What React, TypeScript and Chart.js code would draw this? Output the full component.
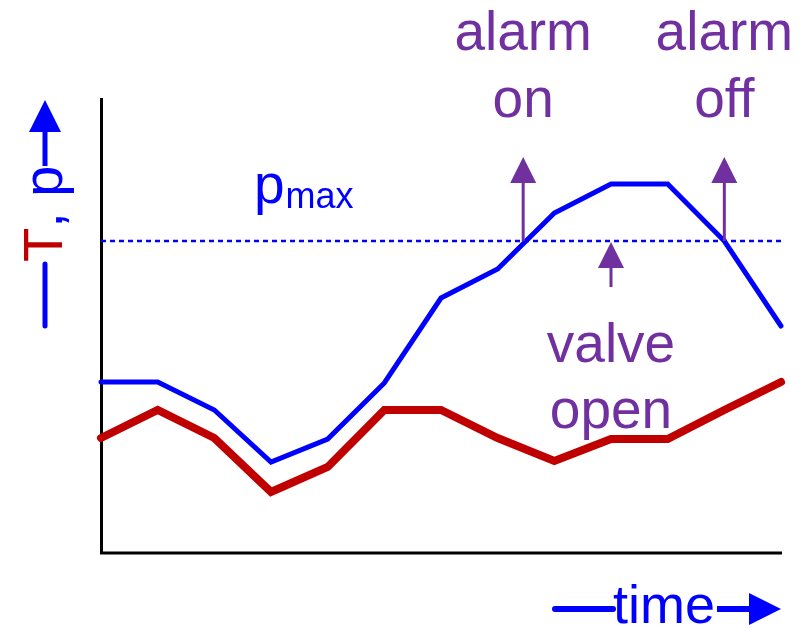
import React, { useEffect, useRef } from "react";
import { Chart, registerables } from "chart.js";

Chart.register(...registerables);

const timeSteps = [0, 1, 2, 3, 4, 5, 6, 7, 8, 9, 10, 11, 12];
const pressure = [169, 169, 141, 89, 112, 168, 253, 282, 338, 367, 367, 310, 225];
const temperature = [113, 141, 113, 59, 84, 141, 141, 113, 90, 112, 112, 141, 169];
const pMax = 310;
const alarmOnT = 7.45;
const alarmOffT = 11;
const valveOpenT = 9;
const alarmArrowTop = 394;
const valveArrowBottom = 264;
const valveArrowTip = 309;

const BLUE = "#0000FF";
const RED = "#C00000";
const PURPLE = "#7030A0";
const FONT = '"Liberation Sans", Arial, sans-serif';

function upArrow(ctx: CanvasRenderingContext2D, x: number, yFrom: number, yTip: number) {
  const headLen = 26;
  const half = 13;
  ctx.save();
  ctx.strokeStyle = PURPLE;
  ctx.fillStyle = PURPLE;
  ctx.lineWidth = 3;
  ctx.beginPath();
  ctx.moveTo(x, yFrom);
  ctx.lineTo(x, yTip + headLen - 2);
  ctx.stroke();
  ctx.beginPath();
  ctx.moveTo(x, yTip);
  ctx.lineTo(x - half, yTip + headLen);
  ctx.lineTo(x + half, yTip + headLen);
  ctx.closePath();
  ctx.fill();
  ctx.restore();
}

const decorPlugin = {
  id: "decor",
  beforeDatasetsDraw(chart: any) {
    const { ctx, chartArea } = chart;
    ctx.save();
    ctx.strokeStyle = "#000";
    ctx.lineWidth = 3;
    ctx.lineCap = "butt";
    ctx.beginPath();
    ctx.moveTo(chartArea.left + 0.5, chartArea.top - 3);
    ctx.lineTo(chartArea.left + 0.5, chartArea.bottom + 3.5);
    ctx.moveTo(chartArea.left - 1, chartArea.bottom + 2);
    ctx.lineTo(chartArea.right + 1, chartArea.bottom + 2);
    ctx.stroke();
    ctx.restore();
  },
  afterDatasetsDraw(chart: any) {
    const { ctx } = chart;
    const xs = chart.scales.x;
    const ys = chart.scales.y;
    const xOn = xs.getPixelForValue(alarmOnT);
    const xOff = xs.getPixelForValue(alarmOffT);
    const xValve = xs.getPixelForValue(valveOpenT);
    const yP = ys.getPixelForValue(pMax);
    const yTop = ys.getPixelForValue(alarmArrowTop);

    upArrow(ctx, xOn, yP, yTop);
    upArrow(ctx, xOff, yP, yTop);
    upArrow(ctx, xValve, ys.getPixelForValue(valveArrowBottom), ys.getPixelForValue(valveArrowTip));

    ctx.save();
    ctx.fillStyle = PURPLE;
    ctx.font = `55px ${FONT}`;
    ctx.textAlign = "center";
    ctx.textBaseline = "alphabetic";
    ctx.fillText("alarm", xOn, yTop - 107);
    ctx.fillText("on", xOn, yTop - 40);
    ctx.fillText("alarm", xOff, yTop - 107);
    ctx.fillText("off", xOff, yTop - 40);
    const yValveB = ys.getPixelForValue(valveArrowBottom);
    ctx.fillText("valve", xValve, yValveB + 75);
    ctx.fillText("open", xValve, yValveB + 141);

    // p_max label
    ctx.fillStyle = BLUE;
    ctx.textAlign = "left";
    ctx.font = `55px ${FONT}`;
    const px = xs.getPixelForValue(2.7);
    ctx.fillText("p", px, yP - 38);
    const pw = ctx.measureText("p").width;
    ctx.font = `36px ${FONT}`;
    ctx.fillText("max", px + pw + 1, yP - 33);
    ctx.restore();

    // x-axis label: —time→
    ctx.save();
    ctx.strokeStyle = BLUE;
    ctx.fillStyle = BLUE;
    ctx.lineWidth = 6;
    ctx.lineCap = "round";
    ctx.beginPath();
    ctx.moveTo(555, 609);
    ctx.lineTo(613, 609);
    ctx.stroke();
    ctx.font = `54px ${FONT}`;
    ctx.textAlign = "left";
    ctx.fillText("time", 613, 623);
    ctx.lineCap = "butt";
    ctx.beginPath();
    ctx.moveTo(717, 609);
    ctx.lineTo(752, 609);
    ctx.stroke();
    ctx.beginPath();
    ctx.moveTo(781, 609);
    ctx.lineTo(749, 593);
    ctx.lineTo(749, 625);
    ctx.closePath();
    ctx.fill();
    ctx.restore();

    // y-axis label: —T, p→ rotated
    ctx.save();
    ctx.translate(62, 0);
    ctx.rotate(-Math.PI / 2);
    ctx.strokeStyle = BLUE;
    ctx.fillStyle = BLUE;
    ctx.lineWidth = 5;
    ctx.lineCap = "round";
    ctx.beginPath();
    ctx.moveTo(-326, -17);
    ctx.lineTo(-264, -17);
    ctx.stroke();
    ctx.font = `56px ${FONT}`;
    ctx.textAlign = "left";
    ctx.textBaseline = "alphabetic";
    ctx.fillStyle = RED;
    ctx.fillText("T", -262, 0);
    const tw = ctx.measureText("T").width;
    ctx.fillStyle = BLUE;
    ctx.fillText(", p", -262 + tw, 0);
    ctx.lineCap = "butt";
    ctx.beginPath();
    ctx.moveTo(-166, -17);
    ctx.lineTo(-130, -17);
    ctx.stroke();
    ctx.beginPath();
    ctx.moveTo(-100, -17);
    ctx.lineTo(-132, -33);
    ctx.lineTo(-132, -1);
    ctx.closePath();
    ctx.fill();
    ctx.restore();
  },
};

export default function App() {
  const ref = useRef<HTMLCanvasElement | null>(null);
  useEffect(() => {
    if (!ref.current) return;
    const chart = new Chart(ref.current, {
      type: "line",
      data: {
        datasets: [
          {
            label: "p",
            data: timeSteps.map((t, i) => ({ x: t, y: pressure[i] })),
            borderColor: BLUE,
            borderWidth: 5,
            pointRadius: 0,
            tension: 0,
            borderCapStyle: "round",
            borderJoinStyle: "miter",
            clip: false as any,
            order: 1,
          },
          {
            label: "T",
            data: timeSteps.map((t, i) => ({ x: t, y: temperature[i] })),
            borderColor: RED,
            borderWidth: 8,
            pointRadius: 0,
            tension: 0,
            borderCapStyle: "round",
            borderJoinStyle: "miter",
            clip: false as any,
            order: 2,
          },
          {
            label: "pmax",
            data: [
              { x: timeSteps[0], y: pMax },
              { x: timeSteps[timeSteps.length - 1], y: pMax },
            ],
            borderColor: BLUE,
            borderWidth: 2.5,
            borderDash: [5, 4],
            pointRadius: 0,
            clip: false as any,
            order: 3,
          },
        ],
      },
      options: {
        responsive: false,
        animation: false,
        devicePixelRatio: 1,
        layout: { padding: { left: 101, top: 101, right: 30, bottom: 77 } },
        plugins: { legend: { display: false }, tooltip: { enabled: false } },
        scales: {
          x: { type: "linear", min: 0, max: 12, display: false },
          y: { type: "linear", min: 0, max: 450, display: false },
        },
      },
      plugins: [decorPlugin],
    });
    return () => chart.destroy();
  }, []);
  return (
    <div style={{ position: "fixed", left: 0, top: 0, width: 811, height: 628, background: "#fff" }}>
      <canvas ref={ref} width={811} height={628} style={{ display: "block" }} />
    </div>
  );
}
